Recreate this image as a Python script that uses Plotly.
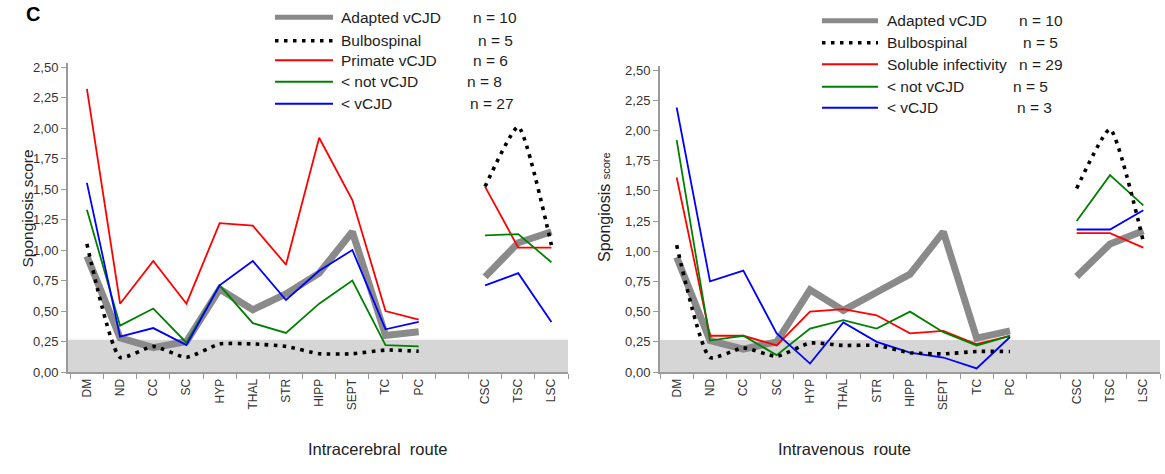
import plotly.graph_objects as go

# ---------------- data ----------------
categories = ['DM', 'ND', 'CC', 'SC', 'HYP', 'THAL', 'STR', 'HIPP', 'SEPT', 'TC', 'PC', ' ', 'CSC', 'TSC', 'LSC']

# Intracerebral route
ic_adapted = [0.95, 0.28, 0.20, 0.25, 0.68, 0.51, 0.64, 0.81, 1.15, 0.30, 0.33, None, 0.78, 1.06, 1.15]
ic_bulbo = [1.05, 0.12, 0.21, 0.12, 0.23, 0.23, 0.21, 0.15, 0.15, 0.18, 0.17, None, 1.52, 2.01, 1.04]
ic_primate = [2.32, 0.56, 0.91, 0.56, 1.22, 1.20, 0.88, 1.92, 1.41, 0.50, 0.43, None, 1.52, 1.02, 1.02]
ic_notv = [1.33, 0.38, 0.52, 0.24, 0.71, 0.40, 0.32, 0.56, 0.75, 0.22, 0.21, None, 1.12, 1.13, 0.90]
ic_vcjd = [1.55, 0.29, 0.36, 0.22, 0.71, 0.91, 0.59, 0.83, 1.00, 0.35, 0.41, None, 0.71, 0.81, 0.41]

# Intravenous route
iv_adapted = [0.95, 0.26, 0.19, 0.25, 0.68, 0.51, 0.66, 0.81, 1.16, 0.28, 0.34, None, 0.79, 1.06, 1.17]
iv_bulbo = [1.05, 0.12, 0.20, 0.13, 0.24, 0.22, 0.22, 0.16, 0.15, 0.17, 0.17, None, 1.52, 2.01, 1.08]
iv_soluble = [1.61, 0.30, 0.30, 0.22, 0.50, 0.52, 0.47, 0.32, 0.34, 0.23, 0.30, None, 1.15, 1.15, 1.03]
iv_notv = [1.92, 0.26, 0.30, 0.14, 0.36, 0.43, 0.36, 0.50, 0.33, 0.22, 0.30, None, 1.25, 1.63, 1.38]
iv_vcjd = [2.19, 0.75, 0.84, 0.32, 0.07, 0.41, 0.25, 0.16, 0.12, 0.03, 0.29, None, 1.18, 1.18, 1.34]

ic_legend = ['Adapted vCJD', 'Bulbospinal', 'Primate vCJD', '< not vCJD', '< vCJD']
ic_n = ['n = 10', 'n = 5', 'n = 6', 'n = 8', 'n = 27']
iv_legend = ['Adapted vCJD', 'Bulbospinal', 'Soluble infectivity', '< not vCJD', '< vCJD']
iv_n = ['n = 10', 'n = 5', 'n = 29', 'n = 5', 'n = 3']

y_tickvals = [0, 0.25, 0.5, 0.75, 1.0, 1.25, 1.5, 1.75, 2.0, 2.25, 2.5]
y_ticktext = ['0,00', '0,25', '0,50', '0,75', '1,00', '1,25', '1,50', '1,75', '2,00', '2,25', '2,50']
band_top = 0.265

# ---------------- styling ----------------
W, H = 1165, 474
T, B = 63, 102
PH = H - T - B
FONT = 'Liberation Sans, Arial, sans-serif'
GRAY = '#8a8a8a'
AXC = '#9a9a9a'
styles = [
    dict(color=GRAY, width=7, dash='solid', shape='linear'),
    dict(color='black', width=3.6, dash='3.6px,5.4px', shape='spline'),
    dict(color='#ff0000', width=1.8, dash='solid', shape='linear'),
    dict(color='#008000', width=1.8, dash='solid', shape='linear'),
    dict(color='#0000ff', width=1.8, dash='solid', shape='linear'),
]


def px(x):
    return x / W


def py(y):
    return (372 - y) / PH


fig = go.Figure()

panels = [
    ('x', 'y', [ic_adapted, ic_bulbo, ic_primate, ic_notv, ic_vcjd]),
    ('x2', 'y2', [iv_adapted, iv_bulbo, iv_soluble, iv_notv, iv_vcjd]),
]
draw_order = [0, 2, 3, 4, 1]
for xa, ya, series in panels:
    for i in draw_order:
        st = styles[i]
        fig.add_trace(go.Scatter(
            x=categories, y=series[i], xaxis=xa, yaxis=ya, mode='lines',
            connectgaps=False, showlegend=False, hoverinfo='skip',
            line=dict(color=st['color'], width=st['width'], dash=st['dash'], shape=st['shape'], smoothing=0.5),
        ))

common_x = dict(type='category', categoryorder='array', categoryarray=categories,
                tickson='boundaries', ticks='outside', ticklen=5, tickwidth=1.2, tickcolor=AXC,
                showline=True, linecolor=AXC, linewidth=2, tickangle=-90, showgrid=False,
                zeroline=False, tickfont=dict(size=12, color='#333333', family=FONT))
common_y = dict(range=[0, 2.533], tickvals=y_tickvals, ticktext=y_ticktext, ticks='outside',
                ticklen=5, tickwidth=1.2, tickcolor=AXC, showline=True, linecolor=AXC, linewidth=2,
                showgrid=False, zeroline=False, tickfont=dict(size=13, color='#333333', family=FONT))

fig.update_layout(
    width=W, height=H, margin=dict(l=0, r=0, t=T, b=B),
    paper_bgcolor='white', plot_bgcolor='white', font=dict(family=FONT, color='#222222'),
    xaxis=dict(domain=[68 / W, 568 / W], anchor='y', range=[-0.57, 14.5], **common_x),
    yaxis=dict(domain=[0, 1], anchor='x', **common_y),
    xaxis2=dict(domain=[660 / W, 1160 / W], anchor='y2', range=[-0.5, 14.5], **common_x),
    yaxis2=dict(domain=[0, 0.99], anchor='x2', **common_y),
)

# grey baseline band
for xr, yr in [('x domain', 'y'), ('x2 domain', 'y2')]:
    fig.add_shape(type='rect', xref=xr, yref=yr, x0=0, x1=1, y0=0, y1=band_top,
                  fillcolor='#d6d6d6', line=dict(width=0), layer='below')

# legends (drawn manually)
legend_specs = [
    (275, 333, 339, [17.3, 40.8, 60.3, 81.8, 103.8], ic_legend, ic_n, [471, 476, 471, 465, 468]),
    (822, 878, 885, [20.7, 42.7, 64.3, 86.7, 107.7], iv_legend, iv_n, [1017, 1021, 1017, 1011, 1015]),
]
for x0, x1, tx, rows, labels, ns, nx in legend_specs:
    for i, (yy, lab, n, nxx) in enumerate(zip(rows, labels, ns, nx)):
        st = styles[i]
        w = 5 if i == 0 else (3.5 if i == 1 else 2)
        fig.add_shape(type='line', xref='paper', yref='paper', x0=px(x0), x1=px(x1),
                      y0=py(yy), y1=py(yy), line=dict(color=st['color'], width=w,
                                                     dash='3.5px,5.5px' if i == 1 else 'solid'))
        fig.add_annotation(xref='paper', yref='paper', x=px(tx), y=py(yy), text=lab,
                           showarrow=False, xanchor='left', yanchor='middle',
                           font=dict(size=15.5, color='#1e1e1e', family=FONT))
        fig.add_annotation(xref='paper', yref='paper', x=px(nxx), y=py(yy), text=n,
                           showarrow=False, xanchor='left', yanchor='middle',
                           font=dict(size=15.5, color='#1e1e1e', family=FONT))

# axis titles
fig.add_annotation(xref='paper', yref='paper', x=px(16), y=py(209), text='Spongiosis score',
                   textangle=-90, showarrow=False, font=dict(size=15.5, color='#222222', family=FONT))
fig.add_annotation(xref='paper', yref='paper', x=px(604), y=py(207),
                   text="Spongiosis <span style='font-size:11px'>score</span>",
                   textangle=-90, showarrow=False, font=dict(size=16, color='#222222', family=FONT))
fig.add_annotation(xref='paper', yref='paper', x=px(306), y=py(460), text='Intracerebral\u00a0 route',
                   showarrow=False, font=dict(size=16.5, color='#222222', family=FONT))
fig.add_annotation(xref='paper', yref='paper', x=px(913), y=py(460), text='Intravenous\u00a0 route',
                   showarrow=False, font=dict(size=16.5, color='#222222', family=FONT))

# panel letter (kept fully inside the page)
fig.add_annotation(xref='paper', yref='paper', x=px(33), y=py(1), text='<b>C</b>',
                   showarrow=False, xanchor='center', yanchor='top',
                   font=dict(size=20, color='black', family=FONT))

fig.write_html('out.html')
